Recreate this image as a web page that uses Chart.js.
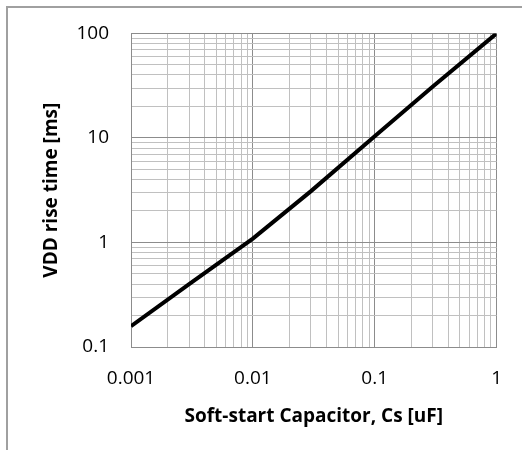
<!DOCTYPE html>
<html>
<head>
<meta charset="utf-8">
<script src="https://cdn.jsdelivr.net/npm/chart.js@4/dist/chart.umd.min.js"></script>
<style>
  html, body { margin: 0; padding: 0; background: #fff; overflow: hidden; }
  #frame { position: absolute; left: 6px; top: 6px; width: 600px; height: 500px;
           border-left: 2px solid #a0a0a0; border-top: 2px solid #a0a0a0; }
  #chart { position: absolute; left: 0; top: 0; }
</style>
</head>
<body>
<div id="frame"></div>
<canvas id="chart" width="522" height="450"></canvas>
<script>
// Soft-start capacitor [uF] vs VDD rise time [ms]
const capacitance = [0.001, 0.003, 0.01, 0.03, 0.1, 0.3, 1];
const riseTime = [0.158, 0.4, 1.09, 3.1, 10.4, 31, 100];

const xDecades = [0.001, 0.01, 0.1, 1];
const yDecades = [0.1, 1, 10, 100];

const fontFamily = "'Open Sans', sans-serif";

function logTicks(decades) {
  const ticks = [];
  decades.forEach(function(d, i) {
    if (i === decades.length - 1) {
      ticks.push({ value: d });
      return;
    }
    for (let m = 1; m < 10; m++) ticks.push({ value: +(d * m).toPrecision(3) });
  });
  return ticks;
}

function isDecade(v) {
  const e = Math.log10(v);
  return Math.abs(e - Math.round(e)) < 1e-6;
}

function gridColor(ctx) {
  if (!ctx.tick) return "#c0c0c0";
  return isDecade(ctx.tick.value) ? "#8c8c8c" : "#c0c0c0";
}

function label(v) {
  return isDecade(v) ? String(v) : "";
}

new Chart(document.getElementById("chart").getContext("2d"), {
  type: "scatter",
  data: {
    datasets: [
      {
        data: capacitance.map((x, i) => ({ x: x, y: riseTime[i] })),
        showLine: true,
        borderColor: "#000",
        borderWidth: 4,
        pointRadius: 0,
        tension: 0
      }
    ]
  },
  options: {
    responsive: false,
    animation: false,
    layout: { padding: { left: 30, top: 31, right: 25, bottom: 18 } },
    plugins: { legend: { display: false }, tooltip: { enabled: false } },
    scales: {
      x: {
        type: "logarithmic",
        min: xDecades[0],
        max: xDecades[xDecades.length - 1],
        afterBuildTicks: function(scale) { scale.ticks = logTicks(xDecades); },
        afterFit: function(scale) { scale.height = 85; },
        grid: { color: gridColor, lineWidth: 1, drawTicks: false },
        border: { color: "#8c8c8c", width: 1 },
        ticks: {
          autoSkip: false,
          maxRotation: 0,
          padding: 20,
          color: "#000",
          font: { family: fontFamily, size: 19 },
          callback: label
        },
        title: {
          display: true,
          text: "Soft-start Capacitor, Cs [uF]",
          color: "#000",
          font: { family: fontFamily, size: 19, weight: "bold" },
          padding: { top: 4, bottom: 4 }
        }
      },
      y: {
        type: "logarithmic",
        min: yDecades[0],
        max: yDecades[yDecades.length - 1],
        afterBuildTicks: function(scale) { scale.ticks = logTicks(yDecades); },
        afterFit: function(scale) { scale.width = 101; },
        grid: { color: gridColor, lineWidth: 1, drawTicks: false },
        border: { color: "#8c8c8c", width: 1 },
        ticks: {
          autoSkip: false,
          padding: 22,
          color: "#000",
          font: { family: fontFamily, size: 19 },
          callback: label
        },
        title: {
          display: true,
          text: "VDD rise time [ms]",
          color: "#000",
          font: { family: fontFamily, size: 19, weight: "bold" },
          padding: { top: 10, bottom: 4 }
        }
      }
    }
  }
});
</script>
</body>
</html>
